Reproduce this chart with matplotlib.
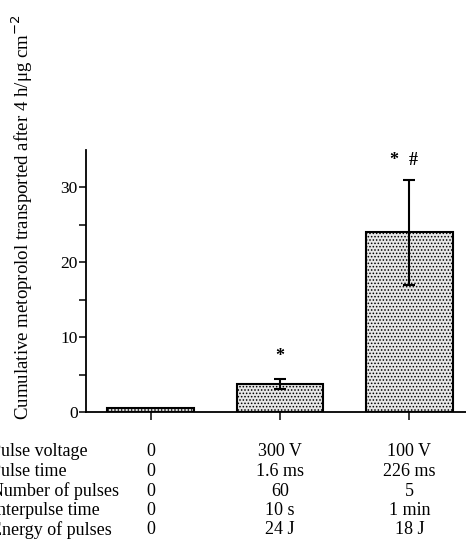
import matplotlib
matplotlib.use("Agg")
import matplotlib.pyplot as plt
from matplotlib.transforms import blended_transform_factory

plt.rcParams['font.family'] = ['Liberation Serif', 'DejaVu Serif']
plt.rcParams['hatch.linewidth'] = 0.7
plt.rcParams['hatch.color'] = '#333333'

# data
values = [0.5, 3.7, 24.0]
err_lo = [0.0, 0.6, 7.0]
err_hi = [0.0, 0.65, 7.0]
row_labels = ["Pulse voltage", "Pulse time", "Number of pulses",
              "Interpulse time", "Energy of pulses"]
col_values = [
    ["0", "0", "0", "0", "0"],
    ["300 V", "1.6 ms", "60", "10 s", "24 J"],
    ["100 V", "226 ms", "5", "1 min", "18 J"],
]
W, H = 466, 539

fig = plt.figure(figsize=(W / 100, H / 100), dpi=100)
ax = fig.add_axes([86 / W, (H - 412) / H, 388 / W, 262.5 / H])

xs = range(len(values))
ax.bar(xs, values, width=0.67, color='#e6e6e6', edgecolor='black',
       linewidth=1.5, hatch='.....', zorder=2)
ax.errorbar([1, 2], values[1:], yerr=[err_lo[1:], err_hi[1:]], fmt='none',
            ecolor='black', elinewidth=1.5, capsize=4, capthick=1.5, zorder=3)

ax.set_xlim(-0.5, 2.5)
ax.set_ylim(0, 35)
ax.set_yticks([0, 10, 20, 30])
ax.set_yticks([5, 15, 25], minor=True)
ax.set_xticks(list(xs))
ax.set_xticklabels([])
ax.tick_params(axis='both', which='both', direction='out', length=5,
               width=1.1, labelsize=12.5)
ax.tick_params(axis='x', length=6)
ax.tick_params(axis='y', pad=1)
for s in ['top', 'right']:
    ax.spines[s].set_visible(False)
for s in ['left', 'bottom']:
    ax.spines[s].set_linewidth(1.3)

# significance marks
ax.text(1, 6.3, "*", ha='center', va='bottom', fontsize=13, fontweight='bold')
ax.text(1.88, 32.4, "*", ha='center', va='bottom', fontsize=13, fontweight='bold')
ax.text(2.03, 32.4, "#", ha='center', va='bottom', fontsize=13, fontweight='bold')

fig.text(22 / W, (H - 420) / H,
         "Cumulative metoprolol transported after 4 h/\u03bcg cm$^{-2}$",
         rotation=90, ha='center', va='bottom', fontsize=13.6)

# parameter table under the bars (left edge cropped as in the source figure)
tr = blended_transform_factory(ax.transData, fig.transFigure)
row_y = [452, 471.5, 491, 510.5, 530]
for lab, y in zip(row_labels, row_y):
    fig.text(-9 / W, 1 - y / H, lab, ha='left', va='center', fontsize=13)
for i, col in enumerate(col_values):
    for txt, y in zip(col, row_y):
        ax.text(i, 1 - y / H, txt, transform=tr, ha='center', va='center',
                fontsize=13, clip_on=False)

fig.savefig("out.png", dpi=100)
